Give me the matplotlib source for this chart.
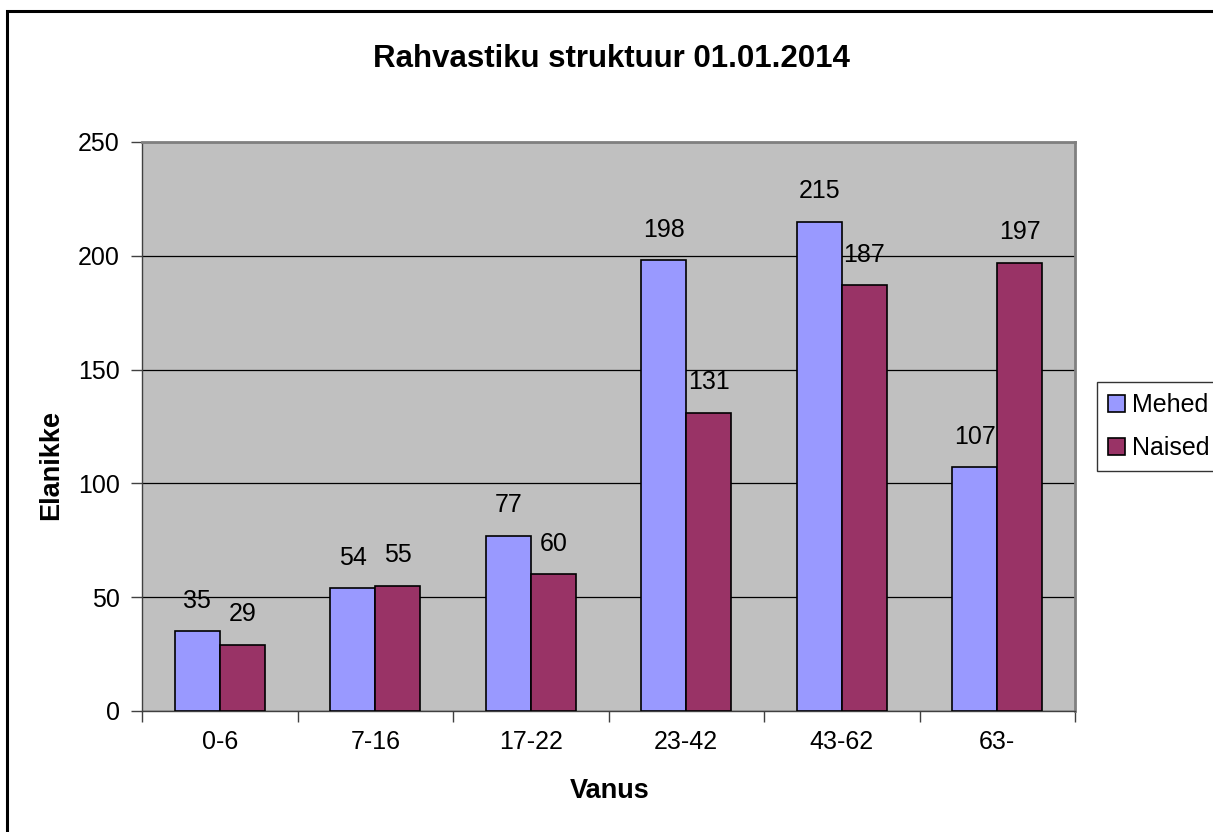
import numpy as np
import matplotlib
matplotlib.use("Agg")
import matplotlib.pyplot as plt
from matplotlib.patches import Rectangle

plt.rcParams['font.family'] = ['Liberation Sans', 'DejaVu Sans']

# ===== DATA =====
categories = ["0-6", "7-16", "17-22", "23-42", "43-62", "63-"]
mehed = [35, 54, 77, 198, 215, 107]
naised = [29, 55, 60, 131, 187, 197]
series_names = ["Mehed", "Naised"]
title = "Rahvastiku struktuur 01.01.2014"

# ===== FIGURE =====
W, H = 1213, 832
fig = plt.figure(figsize=(W / 100, H / 100), dpi=100)
ax = fig.add_axes([142 / W, 1 - 711 / H, (1075 - 142) / W, (711 - 142) / H])
ax.set_facecolor("#C0C0C0")

x = np.arange(len(categories))
bw = 0.29
b1 = ax.bar(x - bw / 2, mehed, bw, color="#9999FF", edgecolor="black", linewidth=1.2,
            label=series_names[0], zorder=3)
b2 = ax.bar(x + bw / 2, naised, bw, color="#993366", edgecolor="black", linewidth=1.2,
            label=series_names[1], zorder=3)

for bars in (b1, b2):
    for r in bars:
        ax.annotate(f"{int(r.get_height())}", (r.get_x() + r.get_width() / 2, r.get_height()),
                    xytext=(0, 22), textcoords="offset points", ha="center", va="center",
                    fontsize=18)

ax.set_xlim(-0.5, len(categories) - 0.5)
ax.set_ylim(0, 250)
ax.set_yticks(np.arange(0, 251, 50))
ax.yaxis.grid(True, color="black", linewidth=0.9, zorder=1)
ax.set_axisbelow(True)

ax.set_xticks(x)
ax.set_xticklabels(categories)
ax.set_xticks(np.arange(-0.5, len(categories)), minor=True)
ax.tick_params(axis="x", which="major", length=0, pad=14, labelsize=18)
ax.tick_params(axis="x", which="minor", length=8, width=1, color="#404040")
ax.tick_params(axis="y", length=8, width=1, color="#404040", labelsize=18, pad=8)

for s in ("top", "right"):
    ax.spines[s].set_color("#808080")
    ax.spines[s].set_linewidth(2)
for s in ("left", "bottom"):
    ax.spines[s].set_color("#404040")
    ax.spines[s].set_linewidth(1)

ax.set_xlabel("Vanus", fontsize=19.5, fontweight="bold", va="center")
ax.xaxis.set_label_coords(610 / W, 1 - 791 / H, transform=fig.transFigure)
ax.set_ylabel("Elanikke", fontsize=19.5, fontweight="bold", va="center")
ax.yaxis.set_label_coords(51 / W, 1 - 465 / H, transform=fig.transFigure)

fig.text(611 / W, 1 - 59 / H, title, ha="center", va="center", fontsize=22.5, fontweight="bold")

leg = fig.legend(loc="upper left", bbox_to_anchor=(1097 / W, 1 - 382 / H), frameon=True,
                 fancybox=False, edgecolor="black", fontsize=18, handlelength=0.65,
                 handleheight=0.65, handletextpad=0.3, borderpad=0.45, labelspacing=0.75,
                 borderaxespad=0)
leg.get_frame().set_linewidth(1)
for h in leg.legend_handles:
    h.set_linewidth(1.2)

# outer chart border
fig.patches.append(Rectangle((7 / W, -0.1), 1.2, 1 - 11 / H + 0.1, transform=fig.transFigure,
                             fill=False, edgecolor="black", linewidth=2.2))

fig.savefig("out.png", dpi=100)
